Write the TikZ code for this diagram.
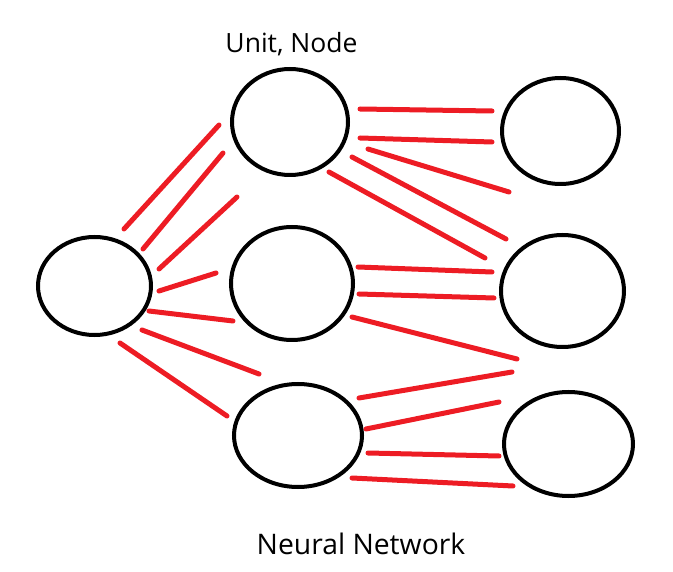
\documentclass[tikz,border=0pt]{standalone}
\usepackage{fontspec}
\setmainfont{Open Sans}
\usetikzlibrary{shapes.geometric}
\definecolor{pred}{RGB}{237,28,36}
\tikzset{
  unit/.style={ellipse, draw=black, line width=4pt, inner sep=0pt},
  wire/.style={draw=pred, line width=5pt, line cap=round},
  lbl/.style={anchor=base, inner sep=0pt}
}
\begin{document}
\begin{tikzpicture}[x=1pt,y=-1pt]
\useasboundingbox (0,0) rectangle (673,572);
% units
\node[unit, minimum width=113pt, minimum height=98pt] (in) at (94.5,286) {};
\node[unit, minimum width=116pt, minimum height=106pt] (h1) at (290,122) {};
\node[unit, minimum width=122pt, minimum height=113pt] (h2) at (292,283.5) {};
\node[unit, minimum width=128pt, minimum height=103pt] (h3) at (298,435.5) {};
\node[unit, minimum width=117pt, minimum height=106pt] (o1) at (560.5,131) {};
\node[unit, minimum width=123pt, minimum height=112pt] (o2) at (562.5,291) {};
\node[unit, minimum width=129pt, minimum height=104pt] (o3) at (568.5,444) {};
% labels
\node[lbl, font=\fontsize{26.5}{30}\selectfont] (t1) at (291.5,53) {Unit, Node};
\node[lbl, font=\fontsize{28.3}{32}\selectfont] (t2) at (361,554.3) {Neural Network};
% input to hidden
\draw[wire] (124,229) -- (219,125);
\draw[wire] (143,249) -- (223,153);
\draw[wire] (159,269) -- (237,197);
\draw[wire] (159,291) -- (216,273);
\draw[wire] (149,311) -- (233,321);
\draw[wire] (142,330) -- (259,374);
\draw[wire] (120,343) -- (227,416);
% hidden to output
\draw[wire] (360,109) -- (492,111);
\draw[wire] (360,138) -- (492,142);
\draw[wire] (368,149) -- (509,192);
\draw[wire] (352,157) -- (506,239);
\draw[wire] (329,172) -- (485,258);
\draw[wire] (358,267) -- (492,272);
\draw[wire] (359,294) -- (494,298);
\draw[wire] (352,317) -- (517,359);
\draw[wire] (359,398) -- (512,372);
\draw[wire] (366,429) -- (499,402);
\draw[wire] (368,453) -- (499,456);
\draw[wire] (352,478) -- (513,486);
\end{tikzpicture}
\end{document}
